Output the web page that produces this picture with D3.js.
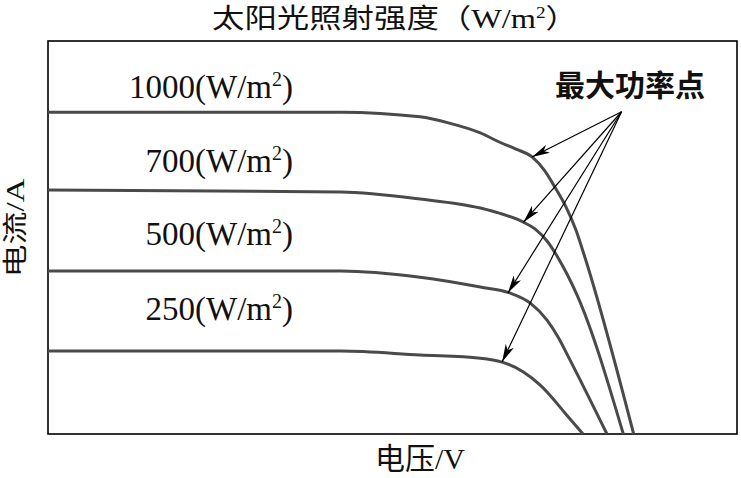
<!DOCTYPE html>
<html>
<head>
<meta charset="utf-8">
<script src="https://cdn.jsdelivr.net/npm/d3@7"></script>
<style>
  body { margin: 0; background: #fff; }
  text { font-family: "Liberation Serif", "Noto Sans CJK SC", serif; fill: #111; }
</style>
</head>
<body>
<div id="chart-area"></div>
<script>
// I-V curves of a PV cell at different irradiance levels
var irradiance = ["1000", "700", "500", "250"];

var v1000 = [0, 17, 21.6, 23.3, 25.1, 26.2, 27.17, 28.1, 28.8, 29.43, 30.07, 30.65, 31.11, 34.0];
var i1000 = [8.19, 8.19, 8.07, 7.91, 7.66, 7.43, 7.25, 7.05, 6.72, 6.28, 5.78, 5.19, 4.58, 0];

var v700 = [0, 17, 21.6, 25.1, 26.2, 27.6, 28.27, 28.97, 29.55, 30.13, 30.71, 33.4];
var i700 = [6.21, 6.16, 5.98, 5.75, 5.62, 5.39, 5.22, 4.91, 4.53, 4.07, 3.54, 0];

var v500 = [0, 17, 21.6, 25.1, 26.8, 28.0, 28.97, 29.61, 30.31, 32.45];
var i500 = [4.15, 4.15, 3.99, 3.74, 3.59, 3.33, 2.90, 2.47, 1.88, 0];

var v250 = [0, 17, 21.6, 25.1, 26.36, 27.6, 28.56, 28.97, 30.02, 31.06];
var i250 = [2.11, 2.11, 2.01, 1.93, 1.83, 1.58, 1.25, 1.07, 0.53, 0];

// maximum power points (arrow targets)
var mppV = [28.1, 27.6, 26.7, 26.36];
var mppI = [7.05, 5.39, 3.59, 1.83];
var arrowFrom = [33.3, 8.2];

var svgW = 741, svgH = 478;
var box = { left: 48, right: 737, top: 41, bottom: 434 };

var svg = d3.select("#chart-area")
    .append("svg")
        .attr("width", svgW)
        .attr("height", svgH);

var x = d3.scaleLinear()
    .domain([0, 40])
    .range([box.left, box.right]);

var y = d3.scaleLinear()
    .domain([0, 10])
    .range([box.bottom, box.top]);

// frame
svg.append("rect")
    .attr("x", x(0))
    .attr("y", y(10))
    .attr("width", x(40) - x(0))
    .attr("height", y(0) - y(10))
    .attr("fill", "none")
    .attr("stroke", "#000")
    .attr("stroke-width", 1.6);

var series = [
    { name: "1000", v: v1000, i: i1000 },
    { name: "700", v: v700, i: i700 },
    { name: "500", v: v500, i: i500 },
    { name: "250", v: v250, i: i250 }
];

var line = d3.line()
    .x(function(d){ return x(d[0]); })
    .y(function(d){ return y(d[1]); })
    .curve(d3.curveMonotoneX);

svg.selectAll(".iv")
    .data(series)
    .enter()
    .append("path")
        .attr("class", "iv")
        .attr("d", function(s){
            return line(s.v.map(function(v, k){ return [v, s.i[k]]; }));
        })
        .attr("fill", "none")
        .attr("stroke", "#4a4a4a")
        .attr("stroke-width", 3);

// curve labels
var labelBase = [98, 172, 245, 320];
var labels = svg.selectAll(".lbl")
    .data(irradiance)
    .enter()
    .append("text")
        .attr("class", "lbl")
        .attr("x", 293)
        .attr("y", function(d, k){ return labelBase[k]; })
        .attr("text-anchor", "end")
        .attr("font-size", "33px");
labels.append("tspan").text(function(d){ return d + "(W/m"; });
labels.append("tspan")
    .attr("dy", -12)
    .attr("font-size", "20px")
    .text("2");
labels.append("tspan")
    .attr("dy", 12)
    .text(")");

// arrows to maximum power points
svg.append("defs").append("marker")
    .attr("id", "head")
    .attr("viewBox", "0 0 18 9")
    .attr("refX", 18)
    .attr("refY", 4.5)
    .attr("markerWidth", 18)
    .attr("markerHeight", 9)
    .attr("markerUnits", "userSpaceOnUse")
    .attr("orient", "auto")
    .append("path")
        .attr("d", "M0,0 L18,4.5 L0,9 L5,4.5 Z")
        .attr("fill", "#000");

svg.selectAll(".arrow")
    .data(mppV)
    .enter()
    .append("line")
        .attr("class", "arrow")
        .attr("x1", x(arrowFrom[0]))
        .attr("y1", y(arrowFrom[1]))
        .attr("x2", function(d){ return x(d); })
        .attr("y2", function(d, k){ return y(mppI[k]); })
        .attr("stroke", "#000")
        .attr("stroke-width", 1.2)
        .attr("marker-end", "url(#head)");

svg.append("text")
    .attr("x", 630)
    .attr("y", 96)
    .attr("text-anchor", "middle")
    .attr("font-size", "30px")
    .attr("font-weight", "bold")
    .text("最大功率点");

// title
var title = svg.append("text")
    .attr("transform", "translate(395, 28) scale(1.2, 1)")
    .attr("text-anchor", "middle")
    .attr("font-size", "27px");
title.append("tspan").text("太阳光照射强度（W/m");
title.append("tspan")
    .attr("dy", -10)
    .attr("font-size", "16px")
    .text("2");
title.append("tspan")
    .attr("dy", 10)
    .text("）");

// X Label
svg.append("text")
    .attr("x", 420)
    .attr("y", 469)
    .attr("text-anchor", "middle")
    .attr("font-size", "30px")
    .text("电压/V");

// Y Label
svg.append("text")
    .attr("transform", "translate(24, 228) rotate(-90) scale(1.32, 1)")
    .attr("text-anchor", "middle")
    .attr("font-size", "25px")
    .text("电流/A");
</script>
</body>
</html>
